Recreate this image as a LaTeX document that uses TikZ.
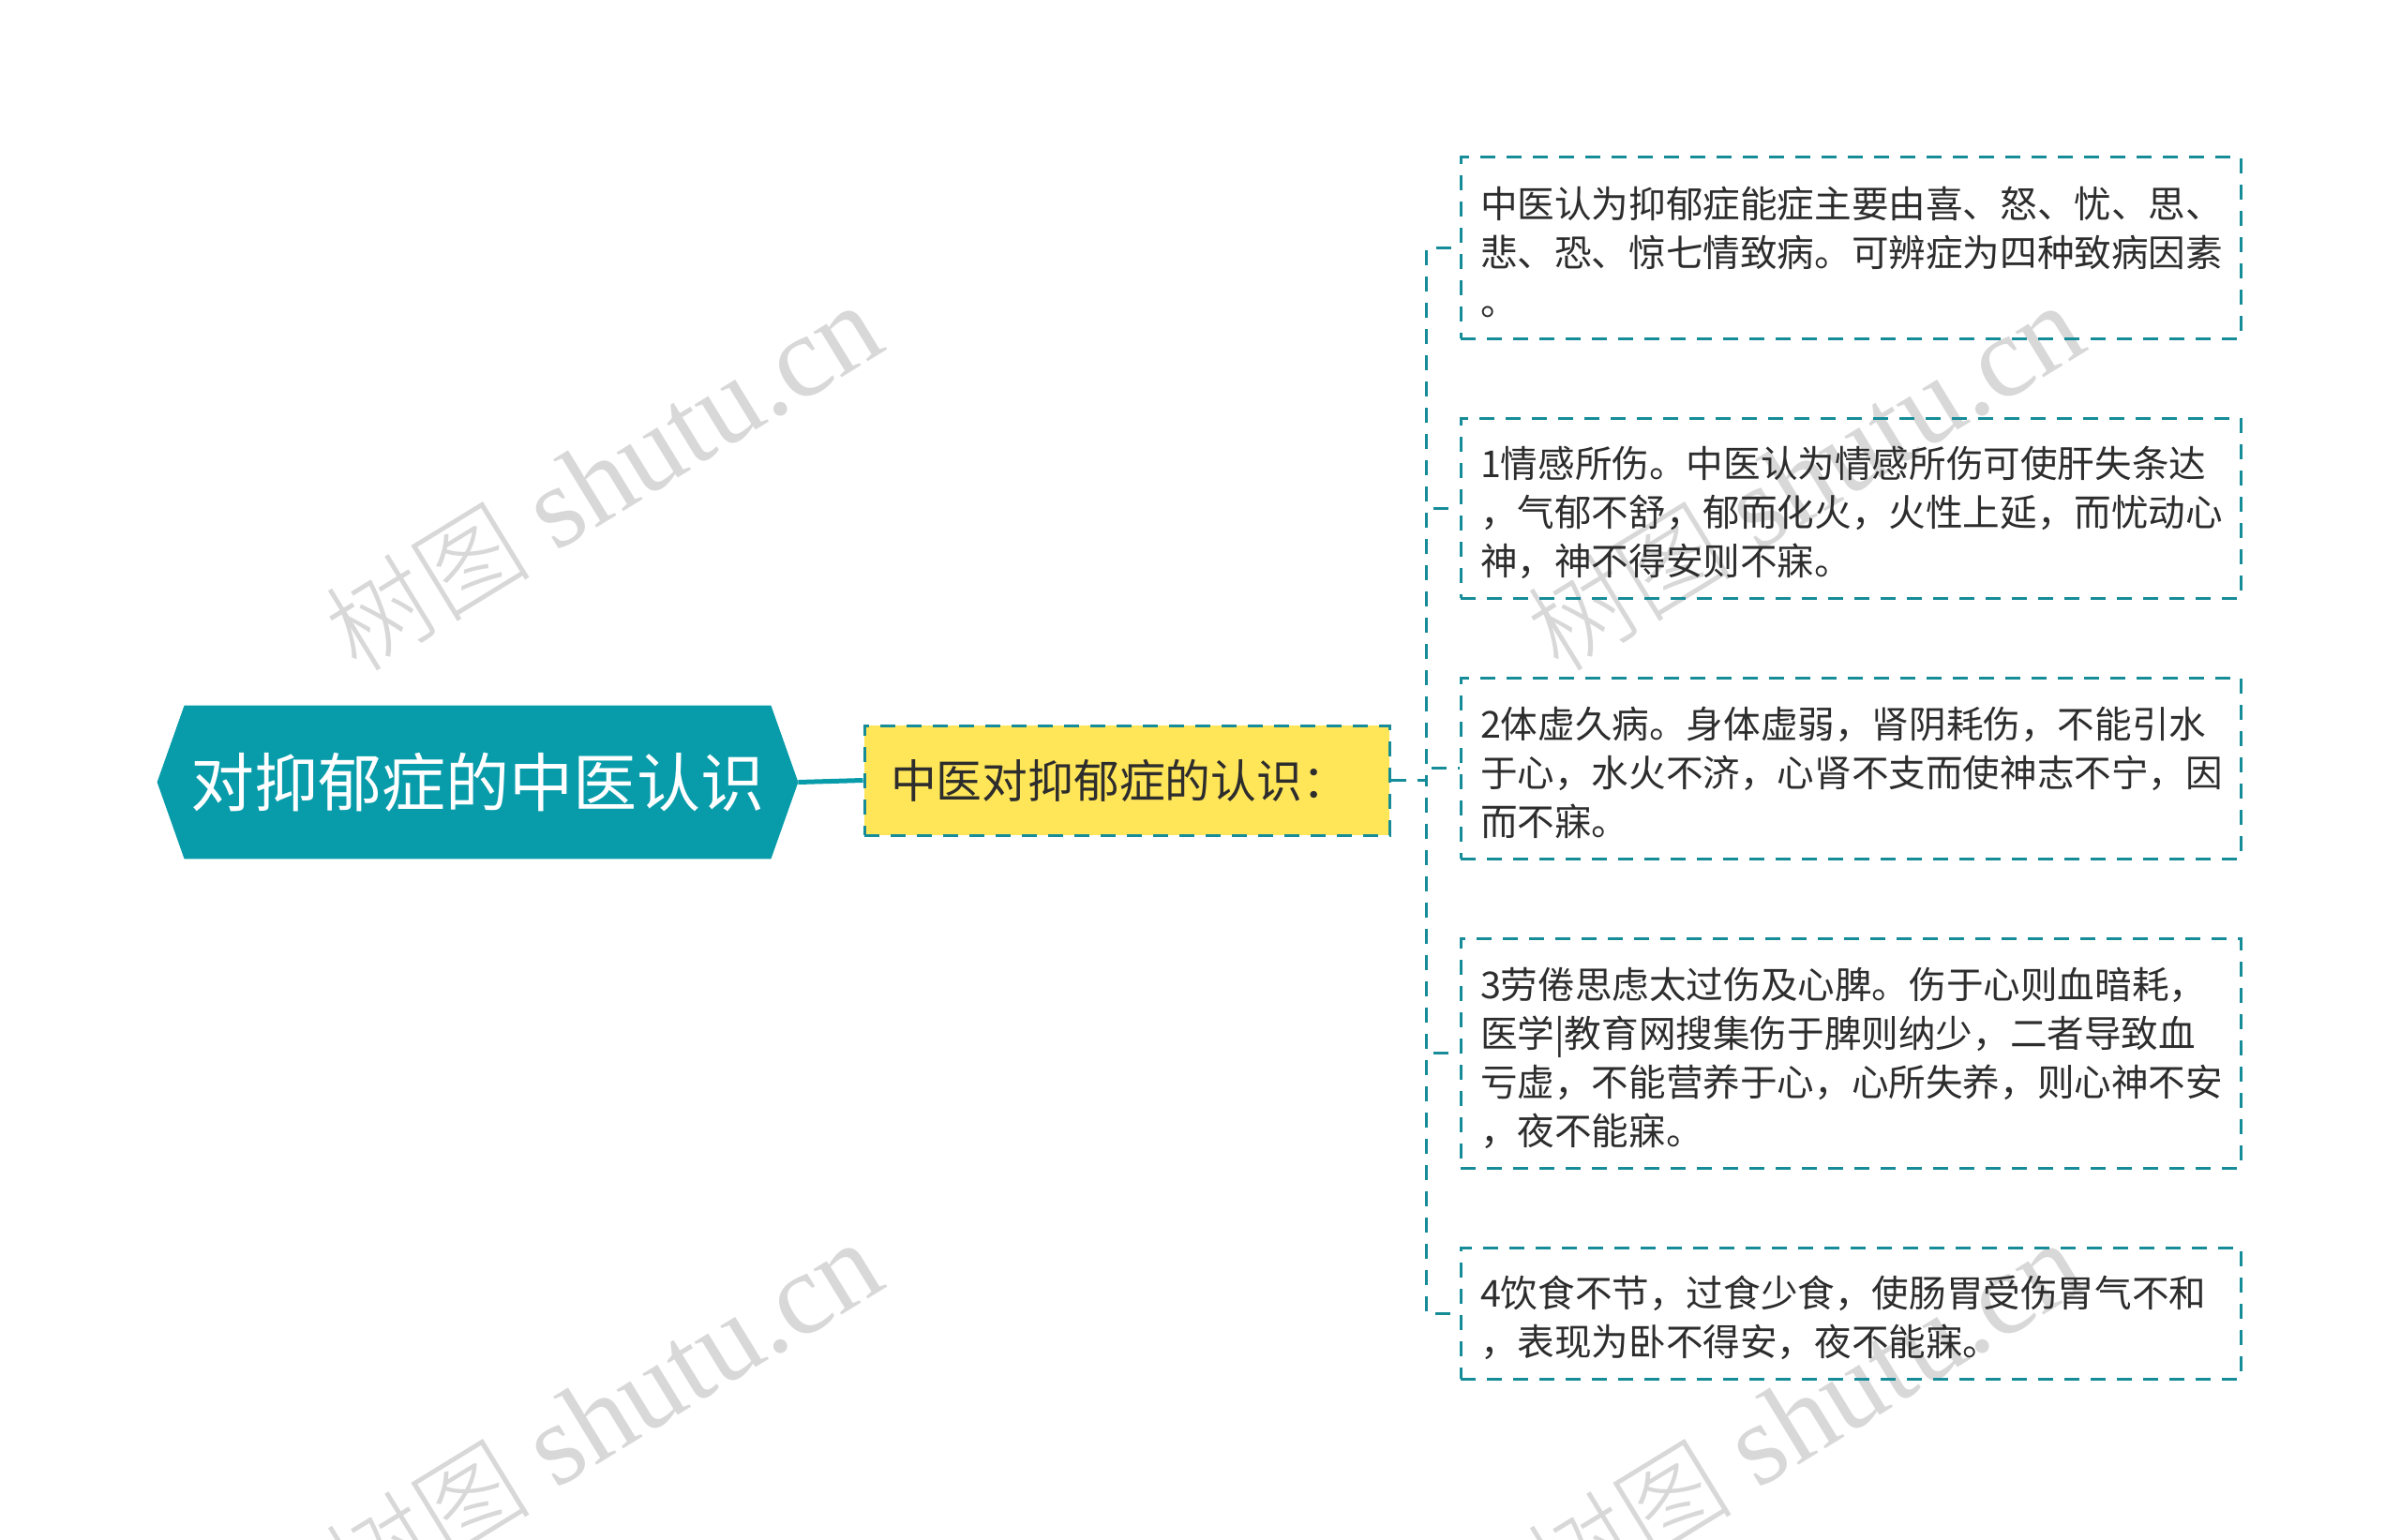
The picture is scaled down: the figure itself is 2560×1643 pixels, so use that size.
\documentclass[tikz,border=0pt]{standalone}
\usepackage{fontspec}
\setmainfont{Noto Sans CJK SC}
\newfontfamily\wmlat{Liberation Serif}
\newfontfamily\wmcjk{Noto Sans CJK SC Light}
\usetikzlibrary{calc,backgrounds}
\definecolor{rootc}{RGB}{8,156,170}
\definecolor{dashc}{RGB}{22,140,152}
\definecolor{yelc}{RGB}{255,229,88}
\definecolor{txtc}{RGB}{45,45,45}
\definecolor{wmc}{RGB}{216,216,216}
\begin{document}
\begin{tikzpicture}[x=0.5pt,y=-0.5pt,
  dashline/.style={draw=dashc, line width=1.5pt, dash pattern=on 8pt off 6pt},
  leafbox/.style={dashline, minimum width=416pt, inner sep=0pt},
  leaftext/.style={text width=395pt, inner sep=0pt, align=left, text=txtc,
    font=\fontsize{19.8pt}{26pt}\selectfont},
  wm/.style={text=wmc, rotate=31.5, inner sep=0pt},
  rootline/.style={draw=rootc, line width=2.5pt}]
\useasboundingbox (0,0) rectangle (2560,1643);
\begin{scope}[on background layer]
\fill[white] (0,0) rectangle (2560,1643);
\end{scope}

% watermarks
\foreach \dx/\dy/\nm in {0/0/wa,1282/0/wb,0/1000/wc,1282/1000/wd}
  \node[wm] (\nm) at (643+\dx,510+\dy) {{\wmcjk\fontsize{55pt}{60pt}\selectfont 树图}\hspace{14pt}{\wmlat\fontsize{62pt}{70pt}\selectfont shutu.cn}};

% root
\node[minimum width=341.5pt, minimum height=81.5pt, inner sep=0pt, text=white,
  font=\fontsize{34pt}{40pt}\selectfont] (root) at (509.5,834.5) {对抑郁症的中医认识};
\begin{scope}[on background layer]
\fill[rootc] (root.west) -- ($(root.north west)+(29,0)$) -- ($(root.north east)+(-29,0)$)
  -- (root.east) -- ($(root.south east)+(-29,0)$) -- ($(root.south west)+(29,0)$) -- cycle;
\end{scope}

% middle
\node[dashline, fill=yelc, minimum width=280pt, minimum height=58.5pt, inner xsep=14pt, inner ysep=0pt,
  text width=252pt, align=left, text=txtc,
  font=\fontsize{24.4pt}{28pt}\selectfont] (mid) at (1202,832.5) {中医对抑郁症的认识：};
\begin{scope}[on background layer]
\draw[rootline] (root.east) -- (mid.west);
\end{scope}

% leaves
\node[leafbox, minimum height=96.5pt] (c1) at (1974,264.5) {};
\node[leafbox, minimum height=96pt] (c2) at (1974,542) {};
\node[leafbox, minimum height=96.5pt] (c3) at (1974,819.5) {};
\node[leafbox, minimum height=122.5pt] (c4) at (1974,1123.5) {};
\node[leafbox, minimum height=70pt] (c5) at (1974,1401) {};

\node[leaftext] (t1) at ($(c1.center)+(0,5)$) {中医认为抑郁症能症主要由喜、怒、忧、思、\\悲、恐、惊七情致病。可辨症为四种致病因素\\。};
\node[leaftext] (t2) at ($(c2.center)+(0,5)$) {1情感所伤。中医认为情感所伤可使肝失条达\\，气郁不舒，郁而化火，火性上延，而忧动心\\神，神不得安则不寐。};
\node[leaftext] (t3) at ($(c3.center)+(0,5)$) {2体虚久病。身体虚弱，肾阴耗伤，不能引水\\于心，水火不济，心肾不支而使神志不宁，因\\而不寐。};
\node[leaftext] (t4) at ($(c4.center)+(0,5)$) {3劳倦思虑太过伤及心脾。伤于心则血暗耗，\\医学|教育网搜集伤于脾则纳少，二者导致血\\亏虚，不能营养于心，心所失养，则心神不安\\，夜不能寐。};
\node[leaftext] (t5) at ($(c5.center)+(0,5)$) {4饮食不节，过食少食，使肠胃受伤胃气不和\\，表现为卧不得安，夜不能寐。};

\foreach \c in {c1,c2,c3,c4,c5}
  \draw[dashline] (mid.east) -- ++(38,0) |- (\c.west);
\end{tikzpicture}
\end{document}
